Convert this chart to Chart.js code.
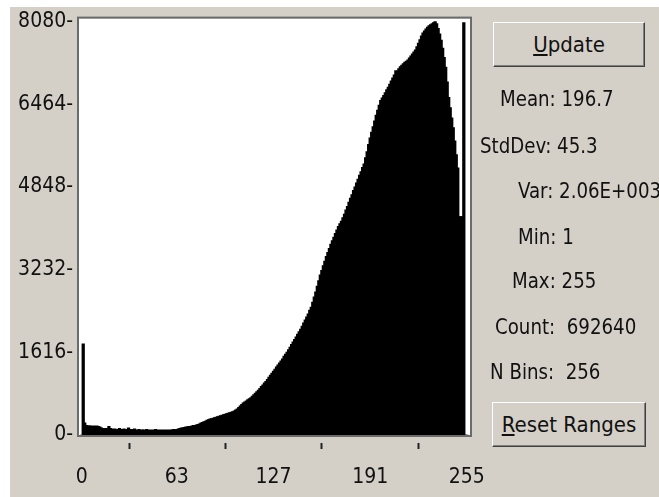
<!DOCTYPE html>
<html>
<head>
<meta charset="utf-8">
<title>Histogram</title>
<script src="https://cdn.jsdelivr.net/npm/chart.js"></script>
<style>
    body { margin: 0; background: #fff; width: 659px; height: 497px; overflow: hidden; position: relative; }
    #panel { position: absolute; left: 10px; top: 7px; right: 0; bottom: 0; background: #d4d0c8; }
    #histo { position: absolute; left: 0; top: 0; }
    .txt, .btn {
        position: absolute;
        font-family: "DejaVu Sans Condensed", "Liberation Sans", Arial, sans-serif;
        font-size: 22px;
        line-height: 25px;
        color: #111;
        white-space: pre;
    }
    .txt { transform: scaleX(0.92); transform-origin: left center; }
    .btn {
        box-sizing: border-box;
        background: #d4d0c8;
        border: 1px solid;
        border-color: #fff #404040 #404040 #fff;
        box-shadow: inset -1px -1px #808080;
        text-align: center;
    }
</style>
</head>
<body>
<div id="panel"></div>
<canvas id="histo" width="659" height="497"></canvas>

<div class="btn" style="left:493px; top:22px; width:152px; height:45px; line-height:43px;"><u>U</u>pdate</div>
<div id="stats"></div>
<div class="btn" style="left:492px; top:402px; width:154px; height:45px; line-height:43px;"><u>R</u>eset Ranges</div>

<script>
    // histogram, 256 bins of 8-bit gray values
    const binLabels = Array.from({ length: 256 }, (_, i) => i);
    const binCounts = [
        0, 1780, 240, 190, 180, 180, 180, 170, 180, 170, 180, 170, 160, 140, 130, 120,
        130, 120, 170, 130, 120, 110, 120, 100, 110, 130, 100, 110, 120, 100, 110, 140,
        100, 110, 100, 120, 90, 100, 110, 90, 100, 100, 90, 110, 100, 90, 100, 90,
        100, 110, 90, 100, 90, 100, 90, 100, 90, 100, 90, 100, 100, 110, 100, 110,
        120, 130, 140, 140, 150, 160, 160, 170, 170, 180, 190, 190, 200, 210, 220, 240,
        250, 260, 270, 290, 300, 315, 320, 330, 340, 350, 360, 370, 380, 390, 400, 410,
        420, 430, 440, 450, 460, 470, 490, 510, 540, 570, 600, 630, 650, 670, 690, 710,
        730, 760, 790, 820, 850, 880, 910, 950, 980, 1020, 1050, 1090, 1130, 1170, 1210, 1250,
        1290, 1330, 1370, 1410, 1450, 1490, 1540, 1580, 1620, 1670, 1720, 1770, 1820, 1870, 1920, 1970,
        2020, 2070, 2130, 2190, 2250, 2310, 2370, 2440, 2500, 2600, 2700, 2800, 2910, 3020, 3130, 3220,
        3310, 3400, 3490, 3570, 3650, 3730, 3800, 3870, 3940, 4010, 4080, 4130, 4180, 4250, 4320, 4400,
        4470, 4550, 4630, 4700, 4780, 4850, 4930, 5000, 5080, 5150, 5230, 5300, 5420, 5540, 5680, 5810,
        5920, 6030, 6140, 6250, 6350, 6450, 6540, 6590, 6640, 6690, 6750, 6800, 6860, 6920, 6980, 7040,
        7120, 7110, 7160, 7200, 7230, 7260, 7290, 7310, 7330, 7370, 7410, 7450, 7490, 7530, 7590, 7660,
        7730, 7800, 7860, 7900, 7940, 7970, 8000, 8020, 8040, 8060, 8080, 8040, 7950, 7840, 7720, 7560,
        7380, 7190, 6900, 6600, 6400, 6200, 6010, 5750, 5480, 5220, 4270, 4270, 4270, 8060, 0, 0
    ];
    const xTicks = [0, 63, 127, 191, 255];
    const yTicks = [0, 1616, 3232, 4848, 6464, 8080];

    // the stats column on the right
    const statLabels = ['Mean: ', 'StdDev: ', 'Var: ', 'Min: ', 'Max: ', 'Count:  ', 'N Bins:  '];
    const statValues = ['196.7', '45.3', '2.06E+003', '1', '255', '692640', '256'];
    const statLeft = [500, 480, 518, 518, 512, 495, 490];
    const statMid = [99, 146, 191, 237, 281, 327, 372];

    const stats = document.getElementById('stats');
    statLabels.forEach((lab, i) => {
        const d = document.createElement('div');
        d.className = 'txt';
        d.style.left = statLeft[i] + 'px';
        d.style.top = (statMid[i] - 13) + 'px';
        d.textContent = lab + statValues[i];
        stats.appendChild(d);
    });

    const font = { family: '"DejaVu Sans Condensed", "Liberation Sans", Arial, sans-serif', size: 21 };

    // white plot background + grey frame round the plot area
    const frame = {
        id: 'frame',
        beforeDraw(chart) {
            const { ctx, chartArea: a } = chart;
            ctx.save();
            ctx.fillStyle = '#fff';
            ctx.fillRect(a.left, a.top, a.right - a.left, a.bottom - a.top);
            ctx.restore();
        },
        afterDatasetsDraw(chart) {
            const { ctx, chartArea: a } = chart;
            ctx.save();
            ctx.strokeStyle = '#6b6b6b';
            ctx.lineWidth = 2;
            ctx.strokeRect(a.left - 1, a.top - 1, a.right - a.left + 2, a.bottom - a.top + 2);
            ctx.restore();
        }
    };

    const ctx = document.getElementById('histo').getContext('2d');
    new Chart(ctx, {
        type: 'bar',
        data: {
            datasets: [{
                data: binLabels.map((b, i) => ({ x: b, y: binCounts[i] })),
                backgroundColor: '#000',
                borderWidth: 0,
                barThickness: 2.6
            }]
        },
        options: {
            responsive: false,
            animation: false,
            events: [],
            layout: { padding: { left: 0, top: 17, right: 189, bottom: 0 } },
            plugins: { legend: { display: false }, tooltip: { enabled: false } },
            scales: {
                x: {
                    type: 'linear',
                    min: -1.8,
                    max: 257.1,
                    offset: false,
                    afterBuildTicks: s => { s.ticks = xTicks.map(v => ({ value: v })); },
                    afterFit: s => { s.height = 62; },
                    border: { display: false },
                    grid: {
                        drawOnChartArea: false,
                        drawTicks: true,
                        tickLength: 14,
                        tickWidth: 2,
                        tickColor: '#222',
                        tickBorderDash: [0, 8, 6, 40]
                    },
                    ticks: { font: font, color: '#111', padding: 16, maxRotation: 0, autoSkip: false }
                },
                y: {
                    min: 0,
                    max: 8138,
                    afterBuildTicks: s => { s.ticks = yTicks.map(v => ({ value: v })); },
                    afterFit: s => { s.width = 79; },
                    border: { display: false },
                    grid: { display: false, drawTicks: false },
                    ticks: { font: font, color: '#111', padding: 6, callback: v => v + '-' }
                }
            }
        },
        plugins: [frame]
    });
</script>
</body>
</html>
